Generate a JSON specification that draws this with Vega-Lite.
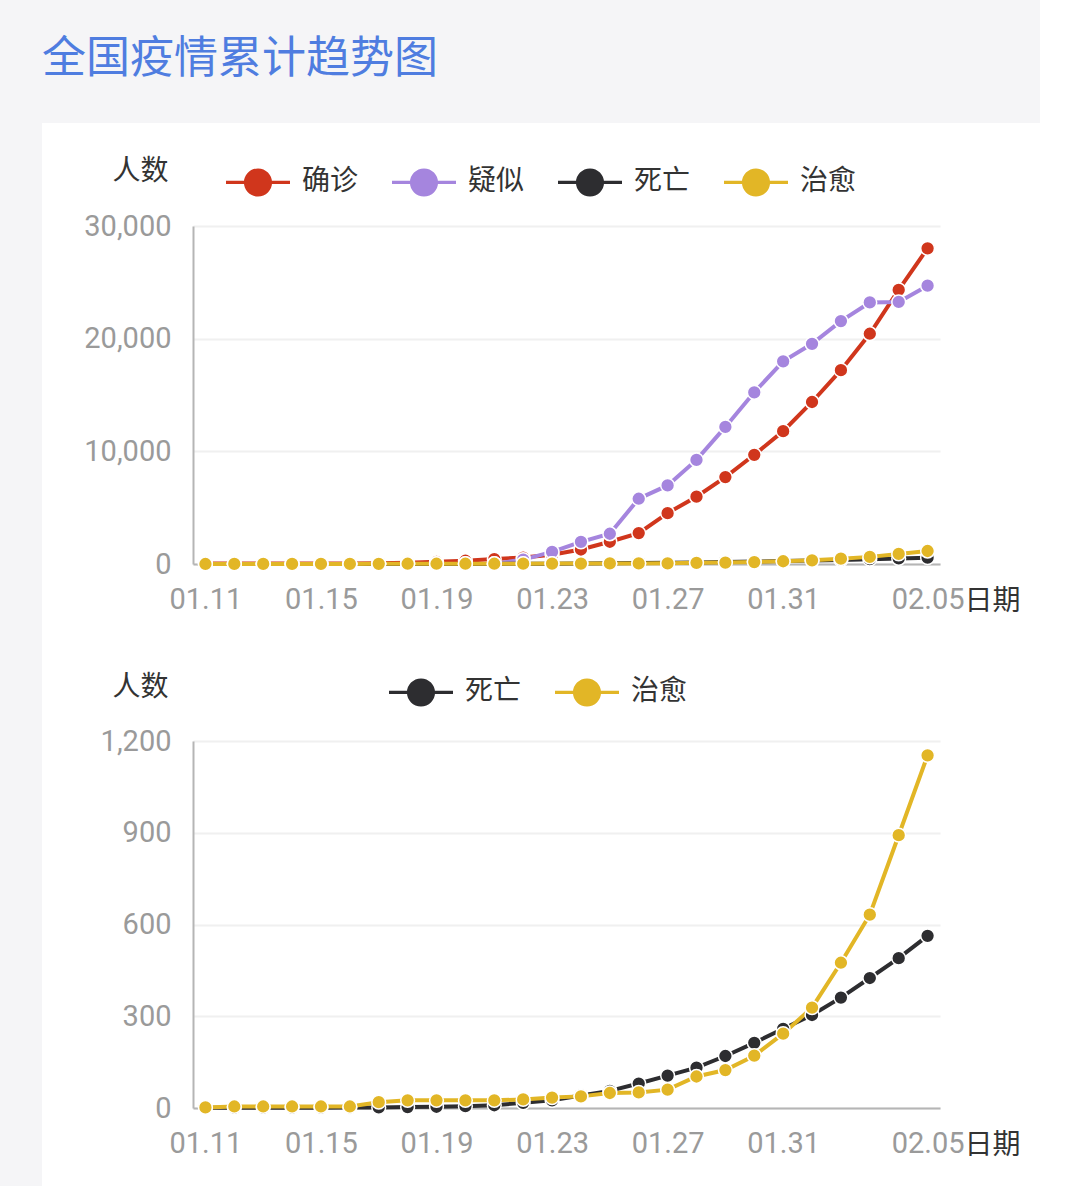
{
  "$schema": "https://vega.github.io/schema/vega-lite/v6.json",
  "background": "#f5f5f7",
  "padding": {"left": 42, "top": 38, "right": 0, "bottom": 0},
  "title": {"text": "全国疫情累计趋势图", "anchor": "start", "font": "Noto Sans CJK SC", "fontSize": 44, "fontWeight": "normal", "color": "#4f7de0", "offset": 41},
  "datasets": {
    "covid": [
      {"date": "01.11", "series": "确诊", "value": 41}, {"date": "01.12", "series": "确诊", "value": 41}, {"date": "01.13", "series": "确诊", "value": 41}, {"date": "01.14", "series": "确诊", "value": 41}, {"date": "01.15", "series": "确诊", "value": 41}, {"date": "01.16", "series": "确诊", "value": 45}, {"date": "01.17", "series": "确诊", "value": 62}, {"date": "01.18", "series": "确诊", "value": 121}, {"date": "01.19", "series": "确诊", "value": 198}, {"date": "01.20", "series": "确诊", "value": 291}, {"date": "01.21", "series": "确诊", "value": 440}, {"date": "01.22", "series": "确诊", "value": 571}, {"date": "01.23", "series": "确诊", "value": 830}, {"date": "01.24", "series": "确诊", "value": 1287}, {"date": "01.25", "series": "确诊", "value": 1975}, {"date": "01.26", "series": "确诊", "value": 2744}, {"date": "01.27", "series": "确诊", "value": 4515}, {"date": "01.28", "series": "确诊", "value": 5974}, {"date": "01.29", "series": "确诊", "value": 7711}, {"date": "01.30", "series": "确诊", "value": 9692}, {"date": "01.31", "series": "确诊", "value": 11791}, {"date": "02.01", "series": "确诊", "value": 14380}, {"date": "02.02", "series": "确诊", "value": 17205}, {"date": "02.03", "series": "确诊", "value": 20438}, {"date": "02.04", "series": "确诊", "value": 24324}, {"date": "02.05", "series": "确诊", "value": 28018},
      {"date": "01.11", "series": "疑似", "value": 0}, {"date": "01.12", "series": "疑似", "value": 0}, {"date": "01.13", "series": "疑似", "value": 0}, {"date": "01.14", "series": "疑似", "value": 0}, {"date": "01.15", "series": "疑似", "value": 0}, {"date": "01.16", "series": "疑似", "value": 0}, {"date": "01.17", "series": "疑似", "value": 0}, {"date": "01.18", "series": "疑似", "value": 0}, {"date": "01.19", "series": "疑似", "value": 0}, {"date": "01.20", "series": "疑似", "value": 0}, {"date": "01.21", "series": "疑似", "value": 0}, {"date": "01.22", "series": "疑似", "value": 393}, {"date": "01.23", "series": "疑似", "value": 1072}, {"date": "01.24", "series": "疑似", "value": 1965}, {"date": "01.25", "series": "疑似", "value": 2684}, {"date": "01.26", "series": "疑似", "value": 5794}, {"date": "01.27", "series": "疑似", "value": 6973}, {"date": "01.28", "series": "疑似", "value": 9239}, {"date": "01.29", "series": "疑似", "value": 12167}, {"date": "01.30", "series": "疑似", "value": 15238}, {"date": "01.31", "series": "疑似", "value": 17988}, {"date": "02.01", "series": "疑似", "value": 19544}, {"date": "02.02", "series": "疑似", "value": 21558}, {"date": "02.03", "series": "疑似", "value": 23214}, {"date": "02.04", "series": "疑似", "value": 23260}, {"date": "02.05", "series": "疑似", "value": 24702},
      {"date": "01.11", "series": "死亡", "value": 1}, {"date": "01.12", "series": "死亡", "value": 1}, {"date": "01.13", "series": "死亡", "value": 1}, {"date": "01.14", "series": "死亡", "value": 1}, {"date": "01.15", "series": "死亡", "value": 1}, {"date": "01.16", "series": "死亡", "value": 2}, {"date": "01.17", "series": "死亡", "value": 2}, {"date": "01.18", "series": "死亡", "value": 3}, {"date": "01.19", "series": "死亡", "value": 4}, {"date": "01.20", "series": "死亡", "value": 6}, {"date": "01.21", "series": "死亡", "value": 9}, {"date": "01.22", "series": "死亡", "value": 17}, {"date": "01.23", "series": "死亡", "value": 25}, {"date": "01.24", "series": "死亡", "value": 41}, {"date": "01.25", "series": "死亡", "value": 56}, {"date": "01.26", "series": "死亡", "value": 80}, {"date": "01.27", "series": "死亡", "value": 106}, {"date": "01.28", "series": "死亡", "value": 132}, {"date": "01.29", "series": "死亡", "value": 170}, {"date": "01.30", "series": "死亡", "value": 213}, {"date": "01.31", "series": "死亡", "value": 259}, {"date": "02.01", "series": "死亡", "value": 304}, {"date": "02.02", "series": "死亡", "value": 361}, {"date": "02.03", "series": "死亡", "value": 425}, {"date": "02.04", "series": "死亡", "value": 490}, {"date": "02.05", "series": "死亡", "value": 563},
      {"date": "01.11", "series": "治愈", "value": 2}, {"date": "01.12", "series": "治愈", "value": 5}, {"date": "01.13", "series": "治愈", "value": 5}, {"date": "01.14", "series": "治愈", "value": 5}, {"date": "01.15", "series": "治愈", "value": 5}, {"date": "01.16", "series": "治愈", "value": 5}, {"date": "01.17", "series": "治愈", "value": 19}, {"date": "01.18", "series": "治愈", "value": 25}, {"date": "01.19", "series": "治愈", "value": 25}, {"date": "01.20", "series": "治愈", "value": 25}, {"date": "01.21", "series": "治愈", "value": 25}, {"date": "01.22", "series": "治愈", "value": 28}, {"date": "01.23", "series": "治愈", "value": 34}, {"date": "01.24", "series": "治愈", "value": 38}, {"date": "01.25", "series": "治愈", "value": 49}, {"date": "01.26", "series": "治愈", "value": 51}, {"date": "01.27", "series": "治愈", "value": 60}, {"date": "01.28", "series": "治愈", "value": 103}, {"date": "01.29", "series": "治愈", "value": 124}, {"date": "01.30", "series": "治愈", "value": 171}, {"date": "01.31", "series": "治愈", "value": 243}, {"date": "02.01", "series": "治愈", "value": 328}, {"date": "02.02", "series": "治愈", "value": 475}, {"date": "02.03", "series": "治愈", "value": 632}, {"date": "02.04", "series": "治愈", "value": 892}, {"date": "02.05", "series": "治愈", "value": 1153}
    ]
  },
  "data": {"name": "covid"},
  "spacing": 0,
  "vconcat": [
    {
      "width": 998,
      "height": 527,
      "encoding": {
        "x": {"field": "date", "type": "ordinal", "sort": null, "scale": {"type": "point", "range": [151, 898], "padding": 0.43},
          "axis": {"values": ["01.11", "01.15", "01.19", "01.23", "01.27", "01.31", "02.05"], "offset": -86, "grid": false, "labelAngle": 0, "labelPadding": 21, "title": "日期", "titleX": 922, "titleY": 37, "titleAlign": "left", "titleBaseline": "middle", "titleAngle": 0}},
        "y": {"field": "value", "type": "quantitative", "scale": {"domain": [0, 30000], "range": [441, 103], "nice": false},
          "axis": {"values": [0, 10000, 20000, 30000], "format": ",.0f", "offset": -151, "labelPadding": 22, "title": "人数", "titleX": -53, "titleY": 48, "titleAlign": "center", "titleBaseline": "middle", "titleAngle": 0}}
      },
      "layer": [
        {"mark": {"type": "line", "strokeWidth": 4},
          "encoding": {"stroke": {"field": "series", "type": "nominal", "sort": null, "scale": {"range": ["#d0361c", "#a585de", "#2d2d30", "#e2b626"]}, "legend": null}}},
        {"mark": {"type": "point", "filled": true, "opacity": 1, "size": 190, "stroke": "white", "strokeWidth": 1.5},
          "encoding": {"color": {"field": "series", "type": "nominal", "scale": {"domain": ["确诊", "疑似", "死亡", "治愈"], "range": ["#d0361c", "#a585de", "#2d2d30", "#e2b626"]},
            "legend": {"orient": "none", "legendX": 184, "legendY": 27, "direction": "horizontal", "title": null, "symbolType": "M-1,-0.05L1,-0.05L1,0.05L-1,0.05Z M0.44,0A0.44,0.44,0,1,1,-0.44,0A0.44,0.44,0,1,1,0.44,0Z", "symbolSize": 4096, "symbolStrokeWidth": 0, "symbolOpacity": 1, "labelFont": "Noto Sans CJK SC", "labelFontSize": 28, "labelColor": "#333333", "labelOffset": 12, "columnPadding": 33}}}}
      ]
    },
    {
      "width": 998,
      "height": 540,
      "transform": [{"filter": {"field": "series", "oneOf": ["死亡", "治愈"]}}],
      "encoding": {
        "x": {"field": "date", "type": "ordinal", "sort": null, "scale": {"type": "point", "range": [151, 898], "padding": 0.43},
          "axis": {"values": ["01.11", "01.15", "01.19", "01.23", "01.27", "01.31", "02.05"], "offset": -82, "grid": false, "labelAngle": 0, "labelPadding": 21, "title": "日期", "titleX": 922, "titleY": 37, "titleAlign": "left", "titleBaseline": "middle", "titleAngle": 0}},
        "y": {"field": "value", "type": "quantitative", "scale": {"domain": [0, 1200], "range": [458, 91], "nice": false},
          "axis": {"values": [0, 300, 600, 900, 1200], "format": ",.0f", "offset": -151, "labelPadding": 22, "title": "人数", "titleX": -53, "titleY": 37, "titleAlign": "center", "titleBaseline": "middle", "titleAngle": 0}}
      },
      "layer": [
        {"mark": {"type": "line", "strokeWidth": 4},
          "encoding": {"stroke": {"field": "series", "type": "nominal", "sort": null, "scale": {"range": ["#2d2d30", "#e2b626"]}, "legend": null}}},
        {"mark": {"type": "point", "filled": true, "opacity": 1, "size": 190, "stroke": "white", "strokeWidth": 1.5},
          "encoding": {"color": {"field": "series", "type": "nominal", "scale": {"domain": ["死亡", "治愈"], "range": ["#2d2d30", "#e2b626"]},
            "legend": {"orient": "none", "legendX": 347, "legendY": 10, "direction": "horizontal", "title": null, "symbolType": "M-1,-0.05L1,-0.05L1,0.05L-1,0.05Z M0.44,0A0.44,0.44,0,1,1,-0.44,0A0.44,0.44,0,1,1,0.44,0Z", "symbolSize": 4096, "symbolStrokeWidth": 0, "symbolOpacity": 1, "labelFont": "Noto Sans CJK SC", "labelFontSize": 28, "labelColor": "#333333", "labelOffset": 12, "columnPadding": 33}}}}
      ]
    }
  ],
  "resolve": {"scale": {"color": "independent", "stroke": "independent", "x": "independent", "y": "independent"}, "legend": {"color": "independent", "stroke": "independent"}},
  "config": {
    "view": {"fill": "white", "stroke": null},
    "axis": {"labelFont": "Roboto", "labelFontSize": 29, "labelColor": "#9a9a9a", "titleFont": "Noto Sans CJK SC", "titleFontSize": 28, "titleFontWeight": "normal", "titleColor": "#333333", "ticks": false, "domainColor": "#b5b5b5", "domainWidth": 2, "gridColor": "#f0f0f0", "gridWidth": 2},
    "legend": {"padding": 0}
  }
}
